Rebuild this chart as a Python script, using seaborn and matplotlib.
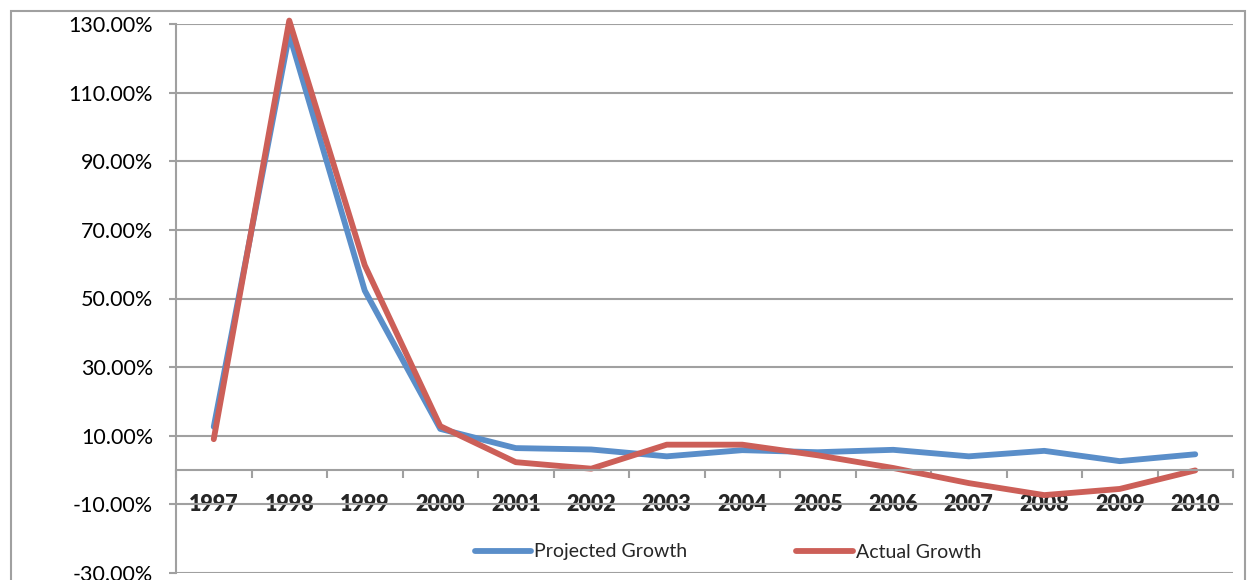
import numpy as np
import pandas as pd
import seaborn as sns
import matplotlib.pyplot as plt
from matplotlib.patches import Rectangle
from matplotlib.ticker import FuncFormatter, FixedLocator

# --- data ---
years = [str(y) for y in range(1997, 2011)]
projected = [12.6, 127.0, 52.3, 12.0, 6.4, 6.0, 4.0, 5.8, 5.2, 5.9, 4.0, 5.6, 2.6, 4.6]
actual = [9.0, 131.0, 59.7, 12.8, 2.3, 0.4, 7.4, 7.4, 4.3, 0.6, -3.8, -7.3, -5.5, -0.1]

df = pd.DataFrame({
    'year': years * 2,
    'growth': projected + actual,
    'series': ['Projected Growth'] * len(years) + ['Actual Growth'] * len(years),
})

sns.set_style('white')
plt.rcParams['font.family'] = ['Lato', 'DejaVu Sans']

fig = plt.figure(figsize=(12.48, 5.8), dpi=100)
ax = fig.add_axes([176 / 1248, 1 - 573 / 580, (1233 - 176) / 1248, (573 - 24) / 580])

grid_col = '#A0A0A0'
sns.lineplot(data=df, x='year', y='growth', hue='series',
             palette={'Projected Growth': '#5A8EC9', 'Actual Growth': '#CC5F58'},
             linewidth=4.2, ax=ax, sort=False, legend=True)
for ln in ax.lines:
    ln.set_solid_capstyle('round')
    ln.set_solid_joinstyle('round')
    ln.set_clip_on(False)

ax.set_ylim(-30, 130)
ax.set_xlim(-0.5, len(years) - 0.5)
ax.set_yticks(np.arange(-30, 131, 20))
ax.yaxis.set_major_formatter(FuncFormatter(lambda v, p: f'{v:.2f}%'))
ax.yaxis.grid(True, color=grid_col, linewidth=1.5)
ax.set_axisbelow(True)
ax.set_xlabel('')
ax.set_ylabel('')

for s in ['top', 'right']:
    ax.spines[s].set_visible(False)
ax.spines['left'].set_color(grid_col)
ax.spines['left'].set_linewidth(1.5)
ax.spines['bottom'].set_position(('data', 0))
ax.spines['bottom'].set_color(grid_col)
ax.spines['bottom'].set_linewidth(1.5)

ax.tick_params(axis='y', length=5, width=1.5, color=grid_col, direction='out',
               pad=11.5, labelsize=15.5, labelcolor='black', left=True)
ax.xaxis.set_minor_locator(FixedLocator(np.arange(-0.5, len(years), 1.0)))
ax.tick_params(axis='x', which='minor', length=6, width=1.5, color=grid_col, direction='out', bottom=True)
ax.tick_params(axis='x', which='major', length=0, pad=17, labelsize=15.5)
for lab in ax.get_xticklabels():
    lab.set_fontweight('heavy')

leg = ax.legend(loc='center', bbox_to_anchor=(728 / 1248, 1 - 552 / 580), bbox_transform=fig.transFigure,
                ncol=2, frameon=False, fontsize=14, handlelength=2.9, handletextpad=0.15,
                columnspacing=5.6, title=None)
for h in leg.get_lines():
    h.set_linewidth(4.2)
    h.set_solid_capstyle('round')

# chart area border
fig.patches.append(Rectangle((11 / 1248, -0.1), (1245 - 11) / 1248, 1.1 - 11 / 580,
                             transform=fig.transFigure, fill=False, edgecolor='#A0A0A0',
                             linewidth=1.5))

fig.savefig('out.png', dpi=100)
